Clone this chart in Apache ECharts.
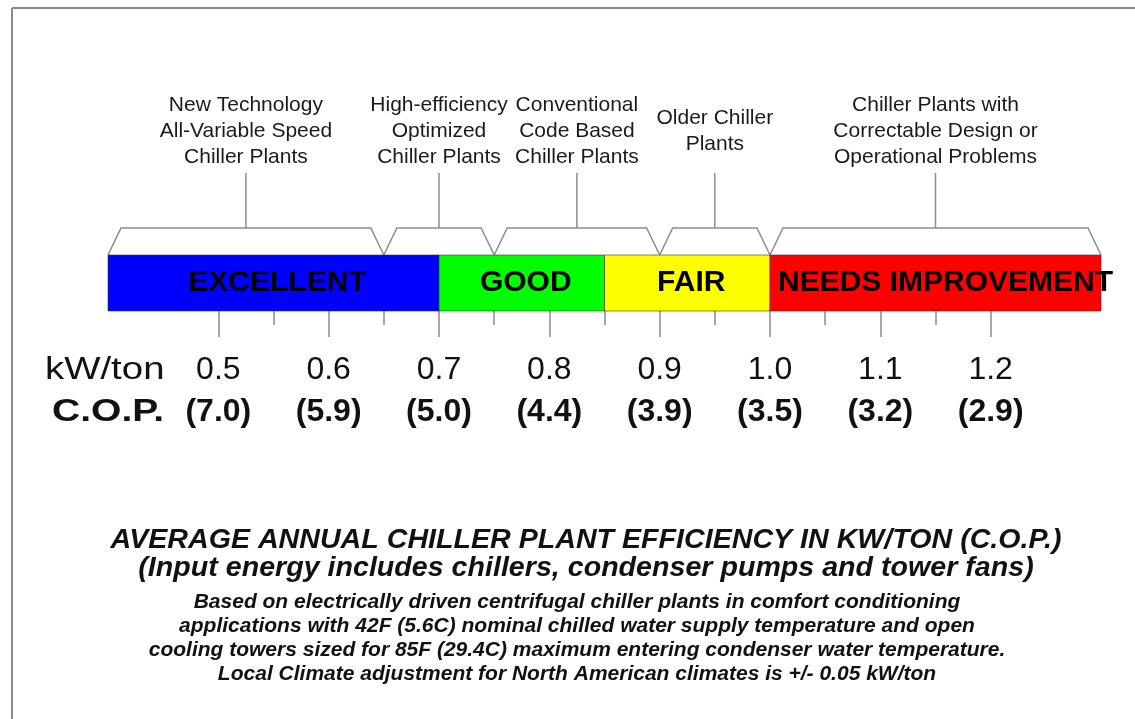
<!DOCTYPE html>
<html>
<head>
<meta charset="utf-8">
<script src="https://cdn.jsdelivr.net/npm/echarts@6/dist/echarts.min.js"></script>
<style>
  html, body { margin: 0; padding: 0; background: #fff; }
  #chart { width: 1135px; height: 719px; }
</style>
</head>
<body>
<div id="chart"></div>
<script>
// rating bands on the kW/ton scale
const bandNames = ['EXCELLENT', 'GOOD', 'FAIR', 'NEEDS IMPROVEMENT']
const bandStart = [0.4, 0.7, 0.85, 1.0]
const bandEnd = [0.7, 0.85, 1.0, 1.3]
const bandColors = ['#0000ff', '#00ff00', '#ffff00', '#ff0000']

// plant types, bracketed above the bar
const groupNames = [
  'New Technology\nAll-Variable Speed\nChiller Plants',
  'High-efficiency\nOptimized\nChiller Plants',
  'Conventional\nCode Based\nChiller Plants',
  'Older Chiller\nPlants',
  'Chiller Plants with\nCorrectable Design or\nOperational Problems'
]
const groupStart = [0.4, 0.65, 0.75, 0.9, 1.0]
const groupEnd = [0.65, 0.75, 0.9, 1.0, 1.3]

// axis ticks / labels
const kwTicks = [0.5, 0.6, 0.7, 0.8, 0.9, 1.0, 1.1, 1.2]
const copLabels = ['(7.0)', '(5.9)', '(5.0)', '(4.4)', '(3.9)', '(3.5)', '(3.2)', '(2.9)']
const minorTicks = [0.55, 0.65, 0.75, 0.85, 0.95, 1.05, 1.15]

const TITLE = [
  'AVERAGE ANNUAL CHILLER PLANT EFFICIENCY IN KW/TON (C.O.P.)',
  '(Input energy includes chillers, condenser pumps and tower fans)'
]
const NOTES = [
  'Based on electrically driven centrifugal chiller plants in comfort conditioning',
  'applications with 42F (5.6C) nominal chilled water supply temperature and open',
  'cooling towers sized for 85F (29.4C) maximum entering condenser water temperature.',
  'Local Climate adjustment for North American climates is +/- 0.05 kW/ton'
]

const FONT = '"Liberation Sans", Arial, sans-serif'
const LINE = '#8c8c8c'
const TICK = { color: '#a8a8a8', width: 2 }

const chart = echarts.init(document.getElementById('chart'))

function renderBand(params, api) {
  const p0 = api.coord([api.value(0), 1])
  const p1 = api.coord([api.value(1), 0])
  return {
    type: 'group',
    children: [
      {
        type: 'rect',
        shape: { x: p0[0], y: p0[1], width: p1[0] - p0[0], height: p1[1] - p0[1] },
        style: { fill: bandColors[params.dataIndex], stroke: '#333', lineWidth: 0.6 }
      },
      {
        type: 'text',
        z2: 10,
        style: {
          text: bandNames[params.dataIndex],
          x: (p0[0] + p1[0]) / 2 + (params.dataIndex === 3 ? 10 : 4), y: (p0[1] + p1[1]) / 2,
          align: 'center', verticalAlign: 'middle',
          font: 'bold 30px ' + FONT, fill: '#000'
        }
      }
    ]
  }
}

// bracket with a stem and its caption
function renderGroup(params, api) {
  const a = api.coord([api.value(0), 1])
  const b = api.coord([api.value(1), 1])
  const mid = (a[0] + b[0]) / 2
  const base = a[1]
  const top = base - 27
  const slope = 13
  return {
    type: 'group',
    children: [
      {
        type: 'polyline',
        shape: { points: [[a[0], base], [a[0] + slope, top], [b[0] - slope, top], [b[0], base]] },
        style: { stroke: LINE, lineWidth: 1.5, fill: null }
      },
      {
        type: 'line',
        shape: { x1: mid, y1: top, x2: mid, y2: top - 55 },
        style: { stroke: LINE, lineWidth: 1.5 }
      },
      {
        type: 'text',
        style: {
          text: groupNames[params.dataIndex],
          x: mid, y: 131,
          align: 'center', verticalAlign: 'middle',
          font: '21px ' + FONT, lineHeight: 26, fill: '#1a1a1a'
        }
      }
    ]
  }
}

chart.setOption({
  backgroundColor: '#ffffff',
  animation: false,
  grid: { left: 108, top: 255, width: 993, height: 56 },
  xAxis: [
    {
      type: 'value', min: 0.4, max: 1.3, position: 'bottom',
      axisLine: { show: false },
      splitLine: { show: false },
      axisTick: { show: true, customValues: kwTicks, length: 26, lineStyle: TICK },
      axisLabel: {
        customValues: kwTicks,
        margin: 38,
        formatter: v => {
          const i = kwTicks.findIndex(t => Math.abs(t - v) < 1e-6)
          return '{k|' + v.toFixed(1) + '}\n{c|' + copLabels[i] + '}'
        },
        rich: {
          k: { fontSize: 32, fontFamily: FONT, color: '#111', lineHeight: 42, align: 'center' },
          c: { fontSize: 32, fontWeight: 'bold', fontFamily: FONT, color: '#111', lineHeight: 42, align: 'center' }
        }
      }
    },
    {
      type: 'value', min: 0.4, max: 1.3, position: 'bottom',
      axisLine: { show: false },
      splitLine: { show: false },
      axisTick: { show: true, customValues: minorTicks, length: 14, lineStyle: TICK },
      axisLabel: { show: false }
    }
  ],
  yAxis: { type: 'value', min: 0, max: 1, show: false },
  series: [
    {
      type: 'custom',
      renderItem: renderGroup,
      data: groupStart.map((s, i) => [s, groupEnd[i]]),
      silent: true
    },
    {
      type: 'custom',
      renderItem: renderBand,
      data: bandStart.map((s, i) => [s, bandEnd[i]]),
      silent: true,
      z: 3
    }
  ],
  graphic: [
    { type: 'line', shape: { x1: 12, y1: 8, x2: 1135, y2: 8 }, style: { stroke: '#8a8a8a', lineWidth: 2 } },
    { type: 'line', shape: { x1: 12, y1: 8, x2: 12, y2: 719 }, style: { stroke: '#8a8a8a', lineWidth: 2 } },
    {
      type: 'text', x: 45, y: 370, scaleX: 1.2,
      style: { text: 'kW/ton', font: '32px ' + FONT, fill: '#111', verticalAlign: 'middle' }
    },
    {
      type: 'text', x: 52, y: 412, scaleX: 1.22,
      style: { text: 'C.O.P.', font: 'bold 32px ' + FONT, fill: '#111', verticalAlign: 'middle' }
    },
    {
      type: 'text', x: 586, y: 555, scaleX: 1.06,
      style: {
        text: TITLE.join('\n'), align: 'center', verticalAlign: 'middle',
        font: 'italic bold 27px ' + FONT, lineHeight: 28, fill: '#111'
      }
    },
    {
      type: 'text', x: 577, y: 638,
      style: {
        text: NOTES.join('\n'), align: 'center', verticalAlign: 'middle',
        font: 'italic bold 21px ' + FONT, lineHeight: 24, fill: '#111'
      }
    }
  ]
})
window.addEventListener('resize', () => chart.resize())
</script>
</body>
</html>
